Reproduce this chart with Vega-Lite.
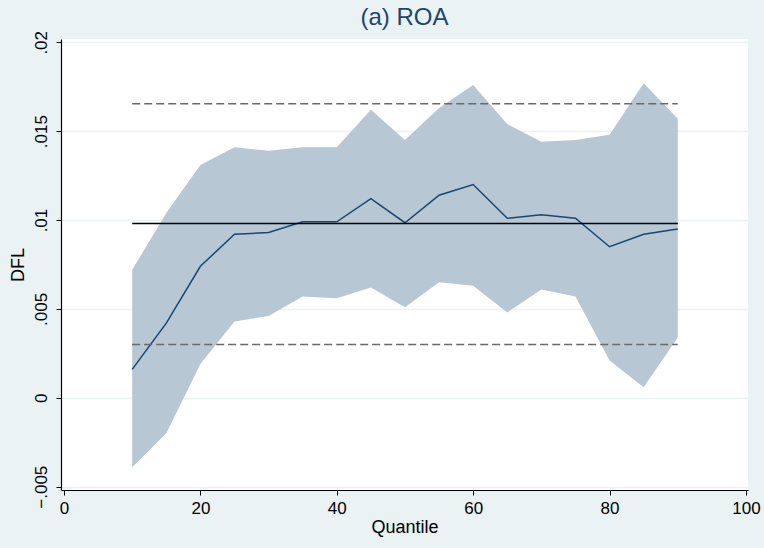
{
  "$schema": "https://vega.github.io/schema/vega-lite/v6.json",
  "autosize": {"type": "none"},
  "width": 687,
  "height": 451,
  "padding": {"left": 61, "top": 39, "right": 16, "bottom": 58},
  "background": "#EAF2F3",
  "view": {"fill": "white", "stroke": null},
  "title": {"text": "(a) ROA", "fontSize": 24, "font": "Liberation Sans", "fontWeight": "normal", "color": "#1a476f", "anchor": "middle", "frame": "group", "offset": 0},
  "config": {"font": "Liberation Sans"},
  "datasets": {
    "qr": [
      {"q": 10, "est": 0.0016, "lo": -0.0039, "hi": 0.0072},
      {"q": 15, "est": 0.0042, "lo": -0.0020, "hi": 0.0104},
      {"q": 20, "est": 0.0074, "lo": 0.0019, "hi": 0.0131},
      {"q": 25, "est": 0.0092, "lo": 0.0043, "hi": 0.0141},
      {"q": 30, "est": 0.0093, "lo": 0.0046, "hi": 0.0139},
      {"q": 35, "est": 0.0099, "lo": 0.0057, "hi": 0.0141},
      {"q": 40, "est": 0.0099, "lo": 0.0056, "hi": 0.0141},
      {"q": 45, "est": 0.0112, "lo": 0.0062, "hi": 0.0162},
      {"q": 50, "est": 0.00985, "lo": 0.0051, "hi": 0.0145},
      {"q": 55, "est": 0.0114, "lo": 0.0065, "hi": 0.0163},
      {"q": 60, "est": 0.0120, "lo": 0.0063, "hi": 0.0176},
      {"q": 65, "est": 0.0101, "lo": 0.0048, "hi": 0.0154},
      {"q": 70, "est": 0.0103, "lo": 0.0061, "hi": 0.0144},
      {"q": 75, "est": 0.0101, "lo": 0.0057, "hi": 0.0145},
      {"q": 80, "est": 0.0085, "lo": 0.0021, "hi": 0.0148},
      {"q": 85, "est": 0.0092, "lo": 0.0006, "hi": 0.0177},
      {"q": 90, "est": 0.0095, "lo": 0.0034, "hi": 0.0157}
    ],
    "ols": [
      {"from": 10, "to": 90, "y": 0.0098, "kind": "coef"},
      {"from": 10, "to": 90, "y": 0.01655, "kind": "ci"},
      {"from": 10, "to": 90, "y": 0.0030, "kind": "ci"}
    ]
  },
  "layer": [
    {
      "data": {"name": "qr"},
      "mark": {"type": "area", "color": "#B7C7D3", "opacity": 1},
      "encoding": {
        "x": {
          "field": "q", "type": "quantitative",
          "scale": {"domain": [-0.44, 100.3], "nice": false, "zero": false},
          "axis": {
            "values": [0, 20, 40, 60, 80, 100],
            "title": "Quantile", "titleFontSize": 18, "titleFontWeight": "normal", "titleColor": "#000000", "titlePadding": 2,
            "labelFontSize": 17, "labelColor": "#000000", "labelPadding": 5, "labelFlush": false,
            "domainColor": "#000000", "domainWidth": 1.2, "tickColor": "#000000", "tickSize": 5,
            "grid": false
          }
        },
        "y": {
          "field": "lo", "type": "quantitative",
          "scale": {"domain": [-0.005186, 0.020186], "nice": false, "zero": false},
          "axis": {
            "values": [-0.005, 0, 0.005, 0.01, 0.015, 0.02],
            "labelExpr": "datum.value == 0 ? '0' : replace(format(datum.value, '.3~f'), '0.', '.')",
            "title": "DFL", "titleFontSize": 18, "titleFontWeight": "normal", "titleColor": "#000000", "titlePadding": 5,
            "labelFontSize": 17, "labelColor": "#000000", "labelAngle": -90, "labelAlign": "center", "labelBaseline": "bottom", "labelPadding": 6,
            "domainColor": "#000000", "domainWidth": 1.2, "tickColor": "#000000", "tickSize": 5,
            "grid": true, "gridColor": "#EAF2F3", "gridWidth": 1.5
          }
        },
        "y2": {"field": "hi"}
      }
    },
    {
      "data": {"name": "qr"},
      "mark": {"type": "line", "color": "#1a476f", "strokeWidth": 1.5},
      "encoding": {
        "x": {"field": "q", "type": "quantitative"},
        "y": {"field": "est", "type": "quantitative"}
      }
    },
    {
      "data": {"name": "ols"},
      "transform": [{"filter": "datum.kind == 'ci'"}],
      "mark": {"type": "rule", "color": "#6a6a6a", "strokeWidth": 1.5, "strokeDash": [8, 4]},
      "encoding": {
        "x": {"field": "from", "type": "quantitative"},
        "x2": {"field": "to"},
        "y": {"field": "y", "type": "quantitative"}
      }
    },
    {
      "data": {"name": "ols"},
      "transform": [{"filter": "datum.kind == 'coef'"}],
      "mark": {"type": "rule", "color": "#000000", "strokeWidth": 1.5},
      "encoding": {
        "x": {"field": "from", "type": "quantitative"},
        "x2": {"field": "to"},
        "y": {"field": "y", "type": "quantitative"}
      }
    }
  ]
}
